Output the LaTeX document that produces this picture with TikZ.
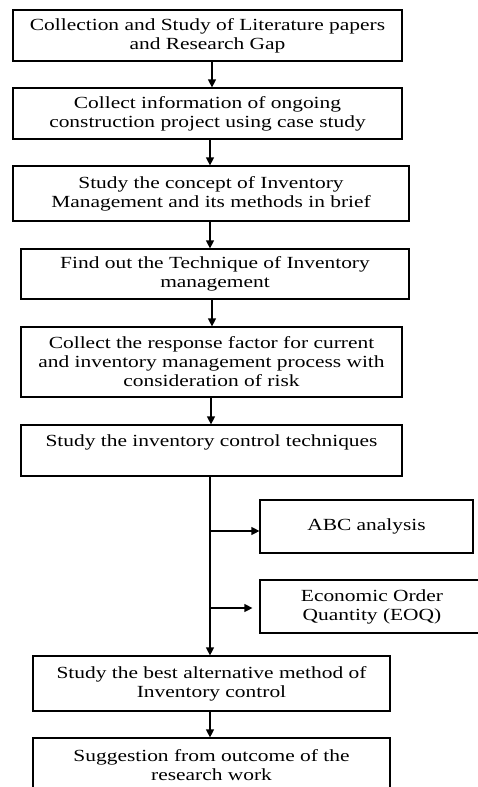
\documentclass[tikz,border=0pt]{standalone}
\usepackage{fontspec}
\setmainfont[FakeStretch=1.26]{Liberation Serif}
\usetikzlibrary{arrows.meta}
\begin{document}
\begin{tikzpicture}[x=1pt,y=-1pt,
  box/.style={draw, line width=1.2pt, inner sep=0pt, align=center,
    font=\fontsize{17}{19}\selectfont},
  arr/.style={line width=1.2pt, -{Triangle[length=8pt,width=8pt]}},
  ln/.style={line width=1.2pt}]
\useasboundingbox (0,0) rectangle (478,787);
\node[box, minimum width=389pt, minimum height=51pt] (b1) at (207.5,35.5) {Collection and Study of Literature papers\\and Research Gap};
\node[box, minimum width=389pt, minimum height=51pt] (b2) at (207.5,113.5) {Collect information of ongoing\\construction project using case study};
\node[box, minimum width=396pt, minimum height=55pt] (b3) at (211,193.5) {Study the concept of Inventory\\Management and its methods in brief};
\node[box, minimum width=388pt, minimum height=50pt] (b4) at (215,274) {Find out the Technique of Inventory\\management};
\node[box, minimum width=381pt, minimum height=70pt] (b5) at (211.5,362) {Collect the response factor for current\\and inventory management process with\\consideration of risk};
\node[box, minimum width=381pt, minimum height=51pt] (b6) at (211.5,450.5) {Study the inventory control techniques\\\mbox{}};
\node[box, minimum width=213pt, minimum height=53pt] (abc) at (366.5,526.5) {ABC analysis};
\node[box, minimum width=224pt, minimum height=53pt] (eoq) at (372,606.5) {Economic Order\\Quantity (EOQ)};
\node[box, minimum width=357pt, minimum height=55pt] (b7) at (211.5,683.5) {Study the best alternative method of\\Inventory control};
\node[box, minimum width=357pt, minimum height=55pt] (b8) at (211.5,765.5) {Suggestion from outcome of the\\research work};
\draw[arr] (b1.south -| 212,0) -- (b2.north -| 212,0);
\draw[arr] (b2.south -| 210,0) -- (b3.north -| 210,0);
\draw[arr] (b3.south -| 210,0) -- (b4.north -| 210,0);
\draw[arr] (b4.south -| 212,0) -- (b5.north -| 212,0);
\draw[arr] (b5.south -| 211,0) -- (b6.north -| 211,0);
\draw[arr] (b6.south -| 210,0) -- (b7.north -| 210,0);
\coordinate (ja) at (210,531);
\coordinate (je) at (210,608);
\draw[arr] (ja) -- (ja -| abc.west);
\draw[arr, shorten >=7pt] (je) -- (je -| eoq.west);
\draw[arr] (b7.south -| 210,0) -- (b8.north -| 210,0);
\end{tikzpicture}
\end{document}
